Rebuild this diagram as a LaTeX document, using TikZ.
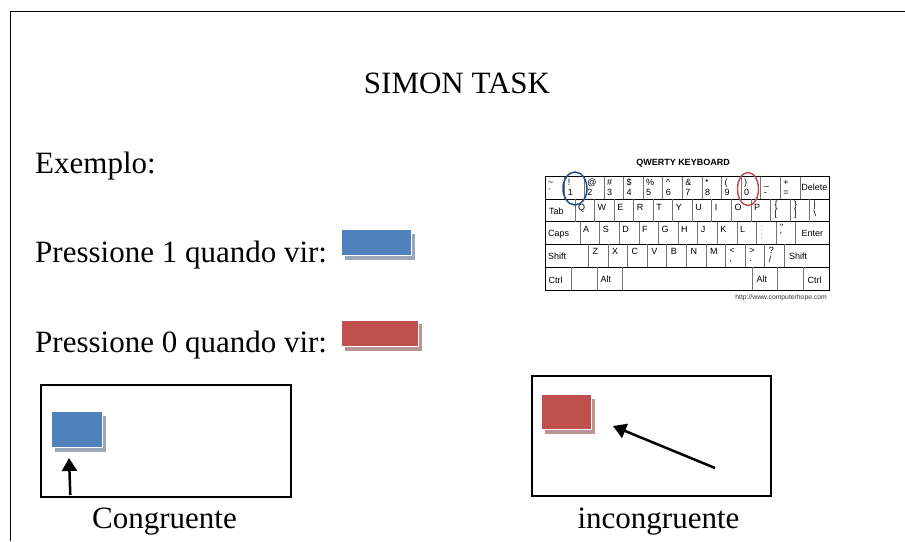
\documentclass[tikz,border=0pt]{standalone}
\usepackage{fontspec}
\setmainfont{Liberation Serif}
\newfontfamily\kbfont{Liberation Sans}
\usetikzlibrary{arrows.meta,shadows}
\definecolor{oblue}{HTML}{4F81BD}
\definecolor{ored}{HTML}{C0504D}
\definecolor{bshadow}{HTML}{9AA6BA}
\definecolor{rshadow}{HTML}{B89494}
\definecolor{navy}{HTML}{1F4E8C}
\definecolor{cred}{HTML}{C0504D}
\begin{document}
\begin{tikzpicture}[x=1pt,y=-1pt,
  big/.style={font=\fontsize{31}{36}\selectfont, inner sep=0pt, anchor=base west},
  kt/.style={font=\kbfont\fontsize{9}{10}\selectfont, inner sep=0pt, anchor=base west},
  ktc/.style={kt, anchor=base},
  kdiv/.style={draw=black!55, line width=0.6pt},
  krow/.style={draw=black, line width=0.7pt},
  stimbox/.style={draw=black, line width=1.5pt, inner sep=0pt, anchor=north west},
  bluesq/.style={fill=oblue, draw=white, line width=0.6pt, inner sep=0pt, anchor=north west,
     drop shadow={opacity=1, fill=bshadow, shadow xshift=3.5pt, shadow yshift=-4.5pt}},
  redsq/.style={fill=ored, draw=white, line width=0.6pt, inner sep=0pt, anchor=north west,
     drop shadow={opacity=1, fill=rshadow, shadow xshift=3.5pt, shadow yshift=-4.5pt}},
  bigarrow/.style={line width=2.5pt, -{Triangle[width=15pt,length=13pt]}}
]
\useasboundingbox (0,0) rectangle (905,541);
% page frame
\coordinate (fb) at (10.5,541);
\coordinate (ftl) at (10.5,11.5);
\coordinate (ftr) at (905,11.5);
\draw[line width=1.5pt] (fb) -- (ftl) -- (ftr);

% texts
\node[big, anchor=base] (title) at (457,93.5) {SIMON TASK};
\node[big] (ex) at (35,173.5) {Exemplo:};
\node[big] (p1) at (35,262) {Pressione 1 quando vir:};
\node[big] (p0) at (35,352) {Pressione 0 quando vir:};

% legend squares
\node[bluesq, minimum width=70pt, minimum height=26pt] (lb) at (341,229) {};
\node[redsq, minimum width=77pt, minimum height=26.5pt] (lr) at (341,319.5) {};

% stimulus boxes
\node[stimbox, minimum width=250pt, minimum height=112pt] (cbox) at (40,384) {};
\node[stimbox, minimum width=239pt, minimum height=120pt] (ibox) at (531,375) {};
\node[bluesq, minimum width=51pt, minimum height=36pt] (csq) at (51,411) {};
\node[redsq, minimum width=50pt, minimum height=35pt] (isq) at (540.7,394) {};
\coordinate (ca0) at (70.3,495);
\coordinate (ca1) at (69,458);
\draw[bigarrow] (ca0) -- (ca1);
\coordinate (ia0) at (715,468);
\coordinate (ia1) at (613,426);
\draw[bigarrow] (ia0) -- (ia1);
\node[big, anchor=base] (cong) at (164.5,528) {Congruente};
\node[big, anchor=base] (incong) at (658.5,528) {incongruente};

% keyboard
\node[font=\kbfont\bfseries\fontsize{9}{10}\selectfont, inner sep=0pt] (kbt) at (683,163) {QWERTY KEYBOARD};
% horizontal lines
\foreach \yy in {199.3,221.7,244.3,267.3} \draw[krow] (545,\yy) -- (829,\yy);
% row 1
\foreach \i in {1,...,13} \draw[kdiv] ({545+19.6*\i},176) -- ({545+19.6*\i},199.3);
\foreach \t/\b [count=\i from 0] in {{\textasciitilde}/{\textasciigrave},{!}/{1},{@}/{2},{\#}/{3},{\$}/{4},{\%}/{5},{\textasciicircum}/{6},{\&}/{7},{*}/{8},{(}/{9},{)}/{0},{\_}/{-},{+}/{=}}{
  \node[kt] (ra\i) at ({545+19.6*\i+3},185) {\t};
  \node[kt] (rb\i) at ({545+19.6*\i+3},195) {\b};
}
\node[ktc] (del) at (814.4,190.7) {Delete};
% row 2
\draw[kdiv] (575,199.3) -- (575,221.7);
\foreach \i in {1,...,12} \draw[kdiv] ({575+19.54*\i},199.3) -- ({575+19.54*\i},221.7);
\node[kt] (tab) at (549,214) {Tab};
\foreach \t [count=\i from 0] in {Q,W,E,R,T,Y,U,I,O,P}
  \node[kt] (rc\i) at ({575+19.54*\i+3},210.8) {\t};
\node[kt] (lbt) at ({575+19.54*10+4},207.8) {\{};
\node[kt] (lbb) at ({575+19.54*10+4},216.8) {[};
\node[kt] (rbt) at ({575+19.54*11+4},207.8) {\}};
\node[kt] (rbb) at ({575+19.54*11+4},216.8) {]};
\node[kt] (pit) at ({575+19.54*12+4},207.8) {|};
\node[kt] (pib) at ({575+19.54*12+4},216.8) {\textbackslash};
% row 3
\draw[kdiv] (580,221.7) -- (580,244.3);
\foreach \i in {1,...,11} \draw[kdiv] ({580+19.6*\i},221.7) -- ({580+19.6*\i},244.3);
\node[kt] (caps) at (548,236.5) {Caps};
\foreach \t [count=\i from 0] in {A,S,D,F,G,H,J,K,L}
  \node[kt] (rd\i) at ({580+19.6*\i+3},232.6) {\t};
\node[kt, text=black!45] (colt) at ({580+19.6*9+4},230.2) {:};
\node[kt, text=black!45] (colb) at ({580+19.6*9+4},238.9) {;};
\node[kt] (qut) at ({580+19.6*10+4},230.2) {"};
\node[kt] (qub) at ({580+19.6*10+4},238.9) {'};
\node[ktc] (enter) at (812.3,236.6) {Enter};
% row 4
\draw[kdiv] (588.3,244.3) -- (588.3,267.3);
\foreach \i in {1,...,10} \draw[kdiv] ({588.3+19.6*\i},244.3) -- ({588.3+19.6*\i},267.3);
\node[kt] (shl) at (548,259.6) {Shift};
\foreach \t [count=\i from 0] in {Z,X,C,V,B,N,M}
  \node[kt] (re\i) at ({588.3+19.6*\i+4},254.5) {\t};
\node[kt] (ltt) at ({588.3+19.6*7+4},253) {<};
\node[kt] (ltb) at ({588.3+19.6*7+4},261.5) {,};
\node[kt] (gtt) at ({588.3+19.6*8+4},253) {>};
\node[kt] (gtb) at ({588.3+19.6*8+4},261.5) {.};
\node[kt] (qmt) at ({588.3+19.6*9+4},253) {?};
\node[kt] (qmb) at ({588.3+19.6*9+4},262) {/};
\node[kt] (shr) at (789,259.6) {Shift};
% row 5
\foreach \xx in {571,597,622.3,752.3,777.7,803.3} \draw[kdiv] (\xx,267.3) -- (\xx,290);
\node[kt] (ctl) at (548.3,283) {Ctrl};
\node[kt] (altl) at (600.5,282) {Alt};
\node[kt] (altr) at (756.5,282) {Alt};
\node[kt] (ctr) at (807.5,283) {Ctrl};
% outline
\draw[black, line width=0.8pt] (545,176) rectangle (829,290);
\node[font=\kbfont\fontsize{6.8}{8}\selectfont, inner sep=0pt, anchor=east, text=black!80] (url) at (827,298) {http://www.computerhope.com};
% circles
\draw[navy, line width=1.5pt] (575,188.5) ellipse [x radius=12, y radius=16.5];
\draw[cred, line width=1.5pt] (748,189) ellipse [x radius=10.5, y radius=16.5];
\end{tikzpicture}
\end{document}
